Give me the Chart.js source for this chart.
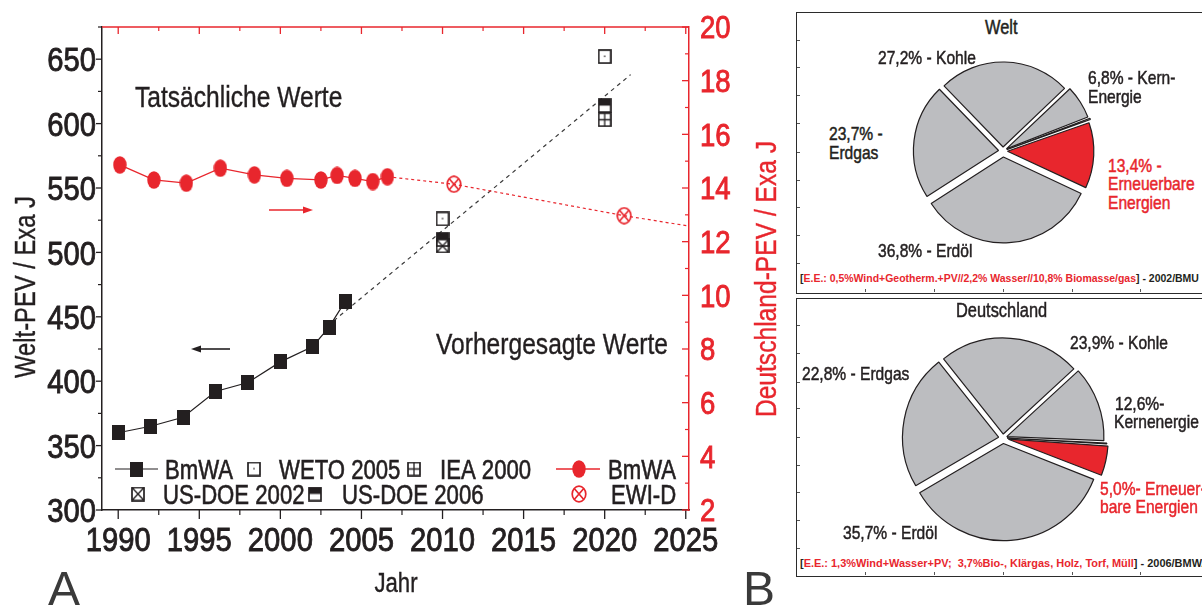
<!DOCTYPE html>
<html lang="de">
<head>
<meta charset="utf-8">
<title>Primärenergieverbrauch Welt / Deutschland</title>
<script src="https://cdn.jsdelivr.net/npm/chart.js@4.4.1/dist/chart.umd.min.js"></script>
<style>
  html, body { margin: 0; padding: 0; background: #fff; }
  body { position: relative; width: 1202px; height: 610px; overflow: hidden; font-family: "Liberation Sans", Arial, sans-serif; color: #231f20; }
  canvas { position: absolute; display: block; }
  .panel { position: absolute; left: 796px; width: 440px; border: 1.4px solid #2b2b2b; box-sizing: border-box; }
  .tick { position: absolute; background: #555; }
  .lbl { position: absolute; white-space: nowrap; line-height: 1; transform-origin: 0 0; -webkit-text-stroke: 0.5px currentColor; }
</style>
</head>
<body>
<canvas id="main" width="790" height="610" style="left:0;top:0"></canvas>
<div class="panel" id="p1" style="top:12px;height:282px"></div>
<div class="panel" id="p2" style="top:298px;height:279px"></div>
<canvas id="pieWelt" width="200" height="200" style="left:903px;top:51px"></canvas>
<canvas id="pieDe" width="230" height="230" style="left:888px;top:323px"></canvas>
<script>
// ---- data ----
const weltYears = [1990, 1992, 1994, 1996, 1998, 2000, 2002, 2003, 2004];
const weltBmWA = [360, 365, 372, 392, 399, 415, 427, 442, 462];
const weltTrendYears = [2003.3, 2021.6];
const weltTrend = [447, 638];

const forecastYears = [2010, 2020];
const weto2005 = [526, 652];
const iea2000 = [null, 603];
const usDoe2002 = [505, null];
const usDoe2006 = [510, 614];

const deYears = [1990.1, 1992.2, 1994.2, 1996.3, 1998.4, 2000.4, 2002.5, 2003.5, 2004.6, 2005.7, 2006.6];
const deBmWA = [14.86, 14.30, 14.18, 14.74, 14.49, 14.36, 14.30, 14.47, 14.36, 14.24, 14.42];
const ewiYears = [2010.7, 2021.2];
const ewiD = [14.14, 12.97];
const deTrendYears = [2006.6, 2010.7, 2021.2, 2025.2];
const deTrend = [14.42, 14.14, 12.97, 12.58];

const xTicks = [1990, 1995, 2000, 2005, 2010, 2015, 2020, 2025];
const leftTicks = [300, 350, 400, 450, 500, 550, 600, 650];
const rightTicks = [2, 4, 6, 8, 10, 12, 14, 16, 18, 20];

const pieLabels = ['Kohle', 'Kernenergie', 'Sonstige', 'Erneuerbare Energien', 'Erdöl', 'Erdgas'];
const weltShares = [27.2, 6.8, 0.5, 13.4, 36.8, 23.7];
const deShares = [23.9, 12.6, 0.3, 5.0, 35.7, 22.8];

// ---- look ----
const ink = '#231f20';
const red = '#e8262d';
const grey = '#bcbdc0';
const FONT = '"Liberation Sans", Arial, sans-serif';
const NARROW = 0.82; // the figure uses a narrow sans face

const pts = (xs, ys) => xs.map((x, i) => ({ x, y: ys[i] })).filter(p => p.y != null);

function icon(w, h, paint) {
  const c = document.createElement('canvas');
  c.width = w; c.height = h;
  paint(c.getContext('2d'), w, h);
  return c;
}
function box(g, w, h) {
  g.strokeStyle = ink; g.lineWidth = 1.7;
  g.strokeRect(1, 1, w - 2, h - 2);
}
const squareIcon = icon(13, 15, (g, w, h) => { g.fillStyle = ink; g.fillRect(0, 0, w, h); });
const dotIcon = icon(14, 18, (g, w, h) => {
  g.fillStyle = red; g.beginPath();
  g.ellipse(w / 2, h / 2, w / 2 - 0.3, h / 2 - 0.3, 0, 0, Math.PI * 2); g.fill();
});
const wetoIcon = icon(14, 15, (g, w, h) => { box(g, w, h); g.fillStyle = ink; g.fillRect(w / 2 - 0.7, h / 2 - 1, 1.4, 1.4); });
const ieaIcon = icon(14, 15, (g, w, h) => {
  box(g, w, h); g.lineWidth = 1.3; g.beginPath();
  g.moveTo(w / 2, 1); g.lineTo(w / 2, h - 1); g.moveTo(1, h / 2); g.lineTo(w - 1, h / 2); g.stroke();
});
const doe02Icon = icon(14, 15, (g, w, h) => {
  box(g, w, h); g.lineWidth = 1.3; g.beginPath();
  g.moveTo(1, 1); g.lineTo(w - 1, h - 1); g.moveTo(w - 1, 1); g.lineTo(1, h - 1); g.stroke();
});
const doe06Icon = icon(14, 15, (g, w, h) => { box(g, w, h); g.fillStyle = ink; g.fillRect(1, 1, w - 2, (h - 2) / 2); });
const ewiIcon = icon(16, 18, (g, w, h) => {
  const rx = w / 2 - 1.2, ry = h / 2 - 1.2, cx = w / 2, cy = h / 2;
  g.strokeStyle = red; g.lineWidth = 1.7; g.beginPath();
  g.ellipse(cx, cy, rx, ry, 0, 0, Math.PI * 2); g.stroke();
  g.beginPath();
  g.moveTo(cx - rx * 0.7, cy - ry * 0.7); g.lineTo(cx + rx * 0.7, cy + ry * 0.7);
  g.moveTo(cx + rx * 0.7, cy - ry * 0.7); g.lineTo(cx - rx * 0.7, cy + ry * 0.7); g.stroke();
});

// narrow text, y is the middle of the capitals
function say(ctx, str, x, y, size, opt = {}) {
  ctx.save();
  ctx.font = (opt.bold ? 'bold ' : '') + size + 'px ' + FONT;
  ctx.fillStyle = opt.color || ink;
  ctx.textBaseline = 'alphabetic';
  ctx.translate(x, y);
  if (opt.rotate) ctx.rotate(opt.rotate);
  ctx.scale(opt.sx || NARROW, 1);
  const w = ctx.measureText(str).width;
  const dx = opt.align === 'center' ? -w / 2 : opt.align === 'right' ? -w : 0;
  ctx.fillText(str, dx, 0.358 * size);
  if (opt.heavy) {
    ctx.strokeStyle = opt.color || ink;
    ctx.lineWidth = opt.heavy;
    ctx.strokeText(str, dx, 0.358 * size);
  }
  ctx.restore();
}
function seg(ctx, x1, y1, x2, y2, color, width) {
  ctx.save();
  ctx.strokeStyle = color; ctx.lineWidth = width;
  ctx.beginPath(); ctx.moveTo(x1, y1); ctx.lineTo(x2, y2); ctx.stroke();
  ctx.restore();
}
function arrow(ctx, x1, x2, y, color) {
  const dir = Math.sign(x2 - x1);
  seg(ctx, x1, y, x2 - dir * 8, y, color, 1.6);
  ctx.save(); ctx.fillStyle = color; ctx.beginPath();
  ctx.moveTo(x2, y); ctx.lineTo(x2 - dir * 10, y - 3.5); ctx.lineTo(x2 - dir * 10, y + 3.5);
  ctx.closePath(); ctx.fill(); ctx.restore();
}
function stamp(ctx, img, x, y) { ctx.drawImage(img, x - img.width / 2, y - img.height / 2); }

const tickFont = { size: 34, sx: 0.86, heavy: 0.9 };

const decor = {
  id: 'decor',
  afterDraw(chart) {
    const { ctx, chartArea: a, scales: { x, yL, yR } } = chart;
    // top frame in red
    seg(ctx, a.left, a.top, a.right, a.top, red, 1.5);

    // tick marks and labels
    const xMinor = xTicks.slice(0, -1).map(v => v + 2.5);
    xTicks.forEach(v => {
      const px = x.getPixelForValue(v);
      seg(ctx, px, a.bottom, px, a.bottom + 9, ink, 1.3);
      seg(ctx, px, a.top, px, a.top + 7, red, 1.3);
      say(ctx, String(v), px, 539, tickFont.size, { align: 'center', sx: tickFont.sx, heavy: tickFont.heavy });
    });
    xMinor.forEach(v => {
      const px = x.getPixelForValue(v);
      seg(ctx, px, a.bottom, px, a.bottom + 5, ink, 1.2);
      seg(ctx, px, a.top, px, a.top + 4, red, 1.2);
    });
    leftTicks.forEach(v => {
      const py = yL.getPixelForValue(v);
      const pm = yL.getPixelForValue(v + 25);
      seg(ctx, a.left, py, a.left - 6, py, ink, 1.3);
      seg(ctx, a.left, pm, a.left - 4, pm, ink, 1.2);
      say(ctx, String(v), a.left - 6, py, tickFont.size, { align: 'right', sx: tickFont.sx, heavy: tickFont.heavy });
    });
    rightTicks.forEach(v => {
      const py = yR.getPixelForValue(v);
      seg(ctx, a.right, py, a.right - 7, py, red, 1.3);
      if (v < 20) {
        const pm = yR.getPixelForValue(v + 1);
        seg(ctx, a.right, pm, a.right - 4, pm, red, 1.2);
      }
      say(ctx, String(v), a.right + 11, py, 32, { color: red, sx: tickFont.sx, heavy: tickFont.heavy });
    });

    // axis titles
    say(ctx, 'Welt-PEV / Exa J', 25, 287, 29, { align: 'center', rotate: -Math.PI / 2, heavy: 0.4 });
    say(ctx, 'Deutschland-PEV / Exa J', 765, 279, 30, { align: 'center', rotate: -Math.PI / 2, color: red, heavy: 0.4 });
    say(ctx, 'Jahr', 396, 582, 27, { align: 'center', heavy: 0.4 });
    say(ctx, 'A', 48, 588, 48, { sx: 1, color: '#3a3a3a' });
    say(ctx, 'B', 743, 588, 48, { sx: 1, color: '#3a3a3a' });

    // annotations
    say(ctx, 'Tatsächliche Werte', 135, 96, 30, { heavy: 0.4 });
    say(ctx, 'Vorhergesagte Werte', 436, 343, 30, { heavy: 0.4 });
    arrow(ctx, 230, 191, 349, ink);
    arrow(ctx, 269, 313, 210, red);

    // legend
    const lf = { heavy: 0.6 };
    seg(ctx, 115, 469, 158, 469, ink, 1.2); stamp(ctx, squareIcon, 136.5, 469);
    say(ctx, 'BmWA', 165, 469, 27, lf);
    stamp(ctx, wetoIcon, 254, 469); say(ctx, 'WETO 2005', 279, 469, 27, lf);
    stamp(ctx, ieaIcon, 414, 469); say(ctx, 'IEA 2000', 440, 469, 27, lf);
    seg(ctx, 556, 469, 600, 469, red, 1.3); stamp(ctx, dotIcon, 579, 469);
    say(ctx, 'BmWA', 608, 469, 27, lf);
    stamp(ctx, doe02Icon, 138, 494); say(ctx, 'US-DOE 2002', 163, 494, 27, lf);
    stamp(ctx, doe06Icon, 315, 494); say(ctx, 'US-DOE 2006', 342, 494, 27, lf);
    stamp(ctx, ewiIcon, 579, 494); say(ctx, 'EWI-D', 611, 494, 27, lf);
  }
};

new Chart(document.getElementById('main'), {
  type: 'scatter',
  data: {
    datasets: [
      { label: 'BmWA (D)', data: pts(deYears, deBmWA), yAxisID: 'yR', showLine: true,
        borderColor: red, borderWidth: 1.3, pointStyle: dotIcon, pointRadius: 7, order: 1 },
      { label: 'Trend D', data: pts(deTrendYears, deTrend), yAxisID: 'yR', showLine: true,
        borderColor: red, borderWidth: 1.2, borderDash: [3, 3], pointRadius: 0, order: 7 },
      { label: 'EWI-D', data: pts(ewiYears, ewiD), yAxisID: 'yR',
        pointStyle: ewiIcon, pointRadius: 7, order: 2 },
      { label: 'BmWA', data: pts(weltYears, weltBmWA), yAxisID: 'yL', showLine: true,
        borderColor: ink, borderWidth: 1.2, pointStyle: squareIcon, pointRadius: 7, order: 1 },
      { label: 'Trend Welt', data: pts(weltTrendYears, weltTrend), yAxisID: 'yL', showLine: true,
        borderColor: '#3a3a3a', borderWidth: 1.2, borderDash: [4, 4], pointRadius: 0, order: 8 },
      { label: 'WETO 2005', data: pts(forecastYears, weto2005), yAxisID: 'yL',
        pointStyle: wetoIcon, pointRadius: 7, order: 3 },
      { label: 'IEA 2000', data: pts(forecastYears, iea2000), yAxisID: 'yL',
        pointStyle: ieaIcon, pointRadius: 7, order: 5 },
      { label: 'US-DOE 2002', data: pts(forecastYears, usDoe2002), yAxisID: 'yL',
        pointStyle: doe02Icon, pointRadius: 7, order: 5 },
      { label: 'US-DOE 2006', data: pts(forecastYears, usDoe2006), yAxisID: 'yL',
        pointStyle: doe06Icon, pointRadius: 7, order: 4 }
    ]
  },
  options: {
    responsive: false,
    animation: false,
    events: [],
    layout: { padding: { top: 27, left: 0, right: 0, bottom: 0 } },
    plugins: { legend: { display: false }, tooltip: { enabled: false } },
    scales: {
      x: {
        type: 'linear', min: 1989, max: 2025.2,
        grid: { display: false }, ticks: { display: false },
        border: { color: ink, width: 1.5 },
        afterFit: s => { s.height = 100; }
      },
      yL: {
        type: 'linear', position: 'left', min: 300, max: 675,
        grid: { display: false }, ticks: { display: false },
        border: { color: ink, width: 1.5 },
        afterFit: s => { s.width = 102; }
      },
      yR: {
        type: 'linear', position: 'right', min: 2, max: 20,
        grid: { display: false }, ticks: { display: false },
        border: { color: red, width: 1.5 },
        afterFit: s => { s.width = 101; }
      }
    }
  },
  plugins: [decor]
});

// ---- pies ----
// note: Chart.js v4 draws an arc at offset / 4 pixels from the centre
const pieColors = [grey, grey, grey, red, grey, grey];
function pie(id, shares, rotation, radius, offsets) {
  new Chart(document.getElementById(id), {
    type: 'pie',
    data: {
      labels: pieLabels,
      datasets: [{ data: shares, backgroundColor: pieColors, borderColor: ink, borderWidth: 1.2,
        offset: offsets, rotation, radius }]
    },
    options: {
      responsive: false, animation: false, events: [],
      layout: { padding: 0 },
      plugins: { legend: { display: false }, tooltip: { enabled: false } }
    }
  });
}
pie('pieWelt', weltShares, -44, 85, [16, 16, 16, 18, 24, 18]);
pie('pieDe', deShares, -38.5, 96, [16, 16, 16, 22, 22, 18]);

// ---- panel texts ----
function put(html, left, cy, size, opt = {}) {
  const d = document.createElement('div');
  d.className = 'lbl';
  d.style.fontSize = size + 'px';
  if (opt.bold) d.style.fontWeight = 'bold';
  d.style.color = opt.color || ink;
  d.innerHTML = html;
  d.style.top = (cy - 0.4885 * size) + 'px';
  d.style.left = '0px';
  document.body.appendChild(d);
  const k = opt.width ? opt.width / d.offsetWidth : NARROW;
  d.style.transform = 'scaleX(' + k + ')';
  const w = d.offsetWidth * k;
  d.style.left = (opt.center ? left - w / 2 : left) + 'px';
  return d;
}
put('Welt', 1001, 27, 20, { center: true });
put('27,2% - Kohle', 878, 57, 19);
put('6,8% - Kern-', 1088, 77, 19);
put('Energie', 1088, 96, 19);
put('23,7% -', 829, 133, 19);
put('Erdgas', 829, 152, 19);
put('13,4% -', 1108, 165, 19, { color: red });
put('Erneuerbare', 1108, 183, 19, { color: red });
put('Energien', 1108, 202, 19, { color: red });
put('36,8% - Erdöl', 878, 250, 19);
put('[<span style="color:' + red + '">E.E.: 0,5%Wind+Geotherm.+PV//2,2% Wasser//10,8% Biomasse/gas</span>] - 2002/BMU',
  800, 278, 11, { bold: true, width: 399 }).style.webkitTextStroke = '0px';

put('Deutschland', 1002, 310, 20, { center: true });
put('23,9% - Kohle', 1070, 342, 19);
put('22,8% - Erdgas', 802, 373, 19);
put('12,6%-', 1115, 403, 19);
put('Kernenergie', 1114, 421, 19);
put('5,0%- Erneuer-', 1100, 488, 19, { color: red });
put('bare Energien', 1100, 506, 19, { color: red });
put('35,7% - Erdöl', 843, 532, 19);
put('[<span style="color:' + red + '">E.E.: 1,3%Wind+Wasser+PV;&nbsp; 3,7%Bio-, Klärgas, Holz, Torf, Müll</span>] - 2006/BMWA',
  800, 563, 11, { bold: true, width: 409 }).style.webkitTextStroke = '0px';

// small frame ticks on the panels
function frameTicks(bottom, ys) {
  ys.forEach(y => {
    const t = document.createElement('div');
    t.className = 'tick';
    Object.assign(t.style, { left: '797px', top: y + 'px', width: '3px', height: '1px' });
    document.body.appendChild(t);
  });
  [865, 934, 1003, 1072, 1140].forEach(x => {
    const t = document.createElement('div');
    t.className = 'tick';
    Object.assign(t.style, { left: x + 'px', top: (bottom - 4) + 'px', width: '1px', height: '3px' });
    document.body.appendChild(t);
  });
}
frameTicks(293, [40, 67, 95, 123, 152, 180, 207, 235, 263]);
frameTicks(576, [325, 353, 382, 408, 437, 465, 492, 520, 548]);
</script>
</body>
</html>
